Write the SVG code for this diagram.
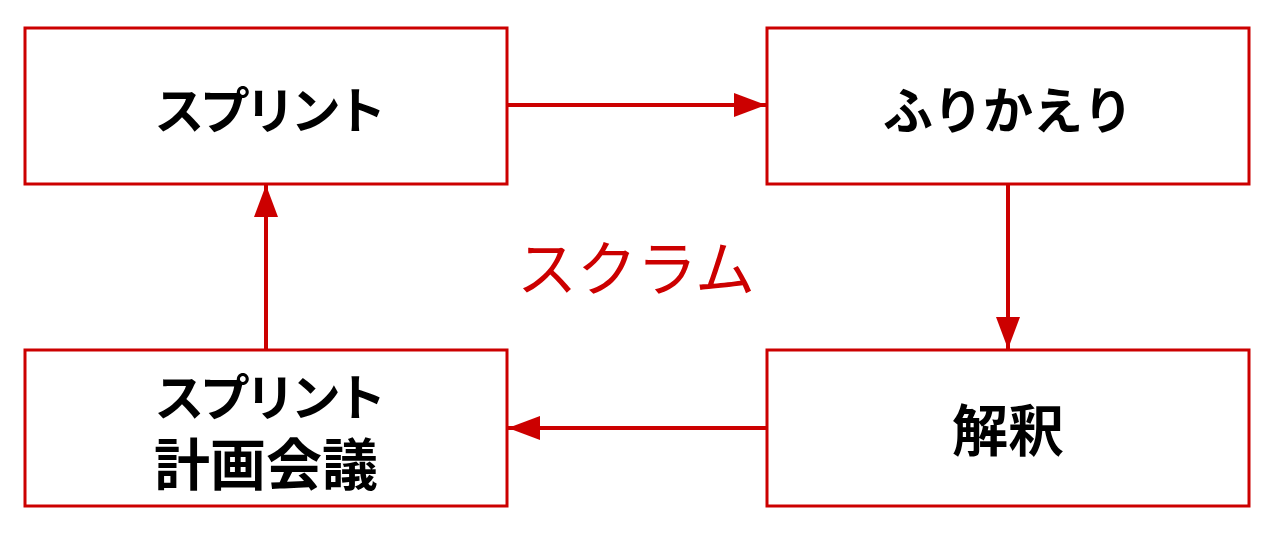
<svg xmlns="http://www.w3.org/2000/svg" width="1280" height="537" viewBox="0 0 1280 537">
<style>
.box{fill:#fff;stroke:#cc0000;stroke-width:3}
.lbl{font-family:"Noto Sans CJK JP","Noto Sans CJK SC",sans-serif;font-weight:bold;font-size:50px;fill:#000;text-anchor:middle}
.kana{letter-spacing:-4.5px}
.kanji{font-size:56px;letter-spacing:0}
.con{stroke:#cc0000;stroke-width:4;fill:none}
.title{font-family:"Noto Sans CJK JP","Noto Sans CJK SC",sans-serif;font-size:60px;fill:#cc0000;text-anchor:middle}
</style>
<defs>
<marker id="ah" viewBox="0 0 32 24" refX="32" refY="12" markerWidth="32" markerHeight="24" markerUnits="userSpaceOnUse" orient="auto">
<path d="M0,0 L32,12 L0,24 Z" fill="#cc0000"/>
</marker>
</defs>
<rect width="1280" height="537" fill="#fff"/>
<g id="connectors">
<line class="con" x1="508" y1="105" x2="766" y2="105" marker-end="url(#ah)"/>
<line class="con" x1="1008" y1="185" x2="1008" y2="349" marker-end="url(#ah)"/>
<line class="con" x1="766" y1="428" x2="508" y2="428" marker-end="url(#ah)"/>
<line class="con" x1="266" y1="350" x2="266" y2="185" marker-end="url(#ah)"/>
</g>
<g id="sprint">
<rect class="box" x="25" y="28" width="482" height="156"/>
<text class="lbl kana" x="268" y="129">スプリント</text>
</g>
<g id="retro">
<rect class="box" x="767" y="28" width="482" height="156"/>
<text class="lbl" x="1008" y="129">ふりかえり</text>
</g>
<g id="interpret">
<rect class="box" x="767" y="350" width="482" height="156"/>
<text class="lbl kanji" x="1008" y="451">解釈</text>
</g>
<g id="planning">
<rect class="box" x="25" y="350" width="482" height="156"/>
<text class="lbl"><tspan class="kana" x="268" y="416">スプリント</tspan><tspan class="kanji" x="266" y="485">計画会議</tspan></text>
</g>
<g id="title">
<text class="title" x="636" y="291">スクラム</text>
</g>
</svg>
